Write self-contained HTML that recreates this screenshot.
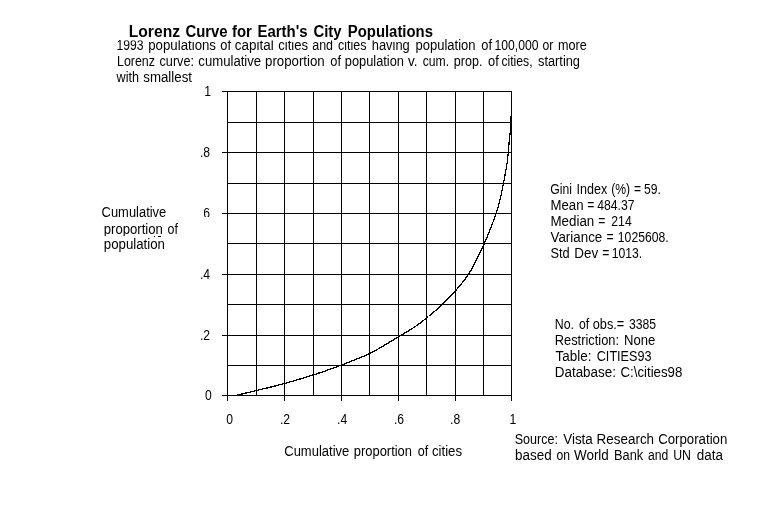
<!DOCTYPE html>
<html lang="en"><head><meta charset="utf-8"><title>Lorenz Curve for Earth's City Populations</title>
<style>
html,body{margin:0;padding:0;background:#fff;}
body{width:767px;height:517px;overflow:hidden;}
svg{display:block;}
text{font-family:"Liberation Sans",Arial,sans-serif;font-size:14px;fill:#000;}
text.b{font-size:16px;font-weight:bold;}
</style></head>
<body>
<svg width="767" height="517" viewBox="0 0 767 517">
<rect width="767" height="517" fill="#fff"/>
<defs>
<clipPath id="c6"><rect x="204" y="200" width="20" height="17"/></clipPath>
<clipPath id="cp"><rect x="100" y="220" width="90" height="16"/></clipPath>
</defs>
<g fill="#000" shape-rendering="crispEdges">
<rect x="227" y="91" width="1" height="310"/>
<rect x="256" y="91" width="1" height="305"/>
<rect x="284" y="91" width="1" height="310"/>
<rect x="313" y="91" width="1" height="305"/>
<rect x="341" y="91" width="1" height="310"/>
<rect x="369" y="91" width="1" height="305"/>
<rect x="398" y="91" width="1" height="310"/>
<rect x="426" y="91" width="1" height="305"/>
<rect x="455" y="91" width="1" height="310"/>
<rect x="483" y="91" width="1" height="305"/>
<rect x="511" y="91" width="1" height="310"/>
<rect x="222" y="91" width="290" height="1"/>
<rect x="227" y="122" width="285" height="1"/>
<rect x="222" y="152" width="290" height="1"/>
<rect x="227" y="183" width="285" height="1"/>
<rect x="222" y="213" width="290" height="1"/>
<rect x="227" y="243" width="285" height="1"/>
<rect x="222" y="274" width="290" height="1"/>
<rect x="227" y="304" width="285" height="1"/>
<rect x="222" y="335" width="290" height="1"/>
<rect x="227" y="365" width="285" height="1"/>
<rect x="222" y="395" width="290" height="1"/>
<rect x="154" y="236" width="1" height="1"/><rect x="158" y="236" width="3" height="1"/>
</g>
<polyline points="235.5,395.5 238.2,394.9 240.8,394.3 243.5,393.6 246.1,393.0 248.8,392.4 251.5,391.7 254.1,391.1 256.8,390.4 259.4,389.8 262.1,389.1 264.7,388.5 267.4,387.9 270.0,387.2 272.7,386.6 275.3,385.9 278.0,385.2 280.6,384.5 283.3,383.8 285.9,383.1 288.5,382.4 291.2,381.6 293.8,380.9 296.4,380.1 299.0,379.3 301.7,378.6 304.3,377.8 306.9,376.9 309.5,376.1 312.1,375.3 314.7,374.5 317.3,373.6 319.9,372.7 322.5,371.9 325.1,371.0 327.6,370.1 330.2,369.2 332.8,368.2 335.4,367.3 337.9,366.3 340.5,365.4 343.0,364.4 345.6,363.5 348.1,362.5 350.7,361.5 353.3,360.5 355.8,359.5 358.3,358.4 360.9,357.4 363.4,356.3 365.9,355.2 368.3,354.1 370.8,352.9 373.2,351.6 375.6,350.4 378.0,349.0 380.4,347.7 382.7,346.3 385.1,344.9 387.4,343.5 389.7,342.0 392.1,340.6 394.4,339.2 396.8,337.7 399.1,336.3 401.5,335.0 403.8,333.6 406.2,332.2 408.5,330.8 410.9,329.3 413.2,327.9 415.4,326.4 417.7,324.8 419.9,323.2 422.1,321.6 424.2,319.9 426.4,318.2 428.5,316.5 430.6,314.7 432.7,313.0 434.8,311.2 436.8,309.4 438.8,307.6 440.9,305.7 442.8,303.8 444.8,301.9 446.7,300.0 448.7,298.1 450.6,296.1 452.5,294.1 454.3,292.1 456.1,290.0 457.9,288.0 459.7,285.9 461.4,283.8 463.1,281.6 464.8,279.5 466.4,277.3 468.0,275.0 469.4,272.8 470.9,270.4 472.2,268.0 473.5,265.6 474.8,263.2 476.0,260.8 477.2,258.3 478.4,255.9 479.6,253.4 480.8,250.9 482.0,248.5" fill="none" stroke="#000" stroke-width="1.3" shape-rendering="crispEdges"/>
<polyline points="482.0,248.5 483.1,246.0 484.3,243.5 485.4,241.0 486.4,238.5 487.5,236.0 488.5,233.4 489.5,230.9 490.5,228.4 491.5,225.8 492.5,223.3 493.5,220.7 494.5,218.2 495.4,215.6 496.3,213.0 497.1,210.4 497.9,207.8 498.6,205.2 499.3,202.5 500.0,199.9 500.6,197.2 501.2,194.5 501.8,191.9 502.3,189.2 502.8,186.5 503.3,183.8 503.9,181.1 504.4,178.4 504.9,175.8 505.4,173.1 505.9,170.4 506.4,167.7 506.8,165.0 507.2,162.3 507.5,159.6 507.8,156.9 508.1,154.1 508.3,151.4 508.5,148.7 508.8,146.0 509.0,143.3 509.3,140.5 509.6,137.8 509.9,135.1 510.2,132.4 510.5,129.7 510.5,126.9 510.5,124.2 510.5,121.5 510.5,118.7 510.5,116.0" fill="none" stroke="#000" stroke-width="1.25" shape-rendering="crispEdges"/>
<g>
<text x="116.45" y="50" textLength="27.10" lengthAdjust="spacingAndGlyphs">1993</text>
<text x="148.25" y="50" textLength="67.75" lengthAdjust="spacingAndGlyphs">populations</text>
<text x="220.25" y="50" textLength="10.72" lengthAdjust="spacingAndGlyphs">of</text>
<text x="234.82" y="50" textLength="38.85" lengthAdjust="spacingAndGlyphs">capital</text>
<text x="278.20" y="50" textLength="29.80" lengthAdjust="spacingAndGlyphs">cities</text>
<text x="312.20" y="50" textLength="20.81" lengthAdjust="spacingAndGlyphs">and</text>
<text x="338.00" y="50" textLength="28.50" lengthAdjust="spacingAndGlyphs">cities</text>
<text x="371.75" y="50" textLength="38.00" lengthAdjust="spacingAndGlyphs">having</text>
<text x="415.50" y="50" textLength="60.10" lengthAdjust="spacingAndGlyphs">population</text>
<text x="481.25" y="50" textLength="10.72" lengthAdjust="spacingAndGlyphs">of</text>
<text x="494.48" y="50" textLength="44.03" lengthAdjust="spacingAndGlyphs">100,000</text>
<text x="542.59" y="50" textLength="10.83" lengthAdjust="spacingAndGlyphs">or</text>
<text x="558.00" y="50" textLength="28.75" lengthAdjust="spacingAndGlyphs">more</text>
<text x="117.00" y="66" textLength="38.00" lengthAdjust="spacingAndGlyphs">Lorenz</text>
<text x="159.50" y="66" textLength="34.50" lengthAdjust="spacingAndGlyphs">curve:</text>
<text x="198.30" y="66" textLength="62.90" lengthAdjust="spacingAndGlyphs">cumulative</text>
<text x="265.00" y="66" textLength="59.75" lengthAdjust="spacingAndGlyphs">proportion</text>
<text x="330.25" y="66" textLength="10.72" lengthAdjust="spacingAndGlyphs">of</text>
<text x="344.75" y="66" textLength="59.25" lengthAdjust="spacingAndGlyphs">population</text>
<text x="408.02" y="66" textLength="9.46" lengthAdjust="spacingAndGlyphs">v.</text>
<text x="422.68" y="66" textLength="26.39" lengthAdjust="spacingAndGlyphs">cum.</text>
<text x="453.80" y="66" textLength="28.60" lengthAdjust="spacingAndGlyphs">prop.</text>
<text x="488.00" y="66" textLength="10.72" lengthAdjust="spacingAndGlyphs">of</text>
<text x="501.43" y="66" textLength="31.13" lengthAdjust="spacingAndGlyphs">cities,</text>
<text x="538.00" y="66" textLength="42.00" lengthAdjust="spacingAndGlyphs">starting</text>
<text x="116.53" y="82" textLength="22.48" lengthAdjust="spacingAndGlyphs">with</text>
<text x="143.25" y="82" textLength="48.74" lengthAdjust="spacingAndGlyphs">smallest</text>
<text x="284.25" y="456" textLength="65.00" lengthAdjust="spacingAndGlyphs">Cumulative</text>
<text x="353.75" y="456" textLength="58.25" lengthAdjust="spacingAndGlyphs">proportion</text>
<text x="417.75" y="456" textLength="10.47" lengthAdjust="spacingAndGlyphs">of</text>
<text x="432.00" y="456" textLength="30.00" lengthAdjust="spacingAndGlyphs">cities</text>
<text x="101.60" y="217" textLength="64.65" lengthAdjust="spacingAndGlyphs">Cumulative</text>
<text x="103.75" y="234" textLength="59.15" lengthAdjust="spacingAndGlyphs" clip-path="url(#cp)">proportion</text>
<text x="167.50" y="234" textLength="10.37" lengthAdjust="spacingAndGlyphs" clip-path="url(#cp)">of</text>
<text x="103.75" y="249" textLength="61.25" lengthAdjust="spacingAndGlyphs">population</text>
<text x="550.30" y="194" textLength="21.66" lengthAdjust="spacingAndGlyphs">Gini</text>
<text x="576.50" y="194" textLength="30.75" lengthAdjust="spacingAndGlyphs">Index</text>
<text x="611.16" y="194" textLength="18.94" lengthAdjust="spacingAndGlyphs">(%)</text>
<text x="634.07" y="194" textLength="7.11" lengthAdjust="spacingAndGlyphs">=</text>
<text x="644.03" y="194" textLength="16.93" lengthAdjust="spacingAndGlyphs">59.</text>
<text x="550.50" y="210" textLength="33.01" lengthAdjust="spacingAndGlyphs">Mean</text>
<text x="587.19" y="210" textLength="7.11" lengthAdjust="spacingAndGlyphs">=</text>
<text x="597.25" y="210" textLength="37.25" lengthAdjust="spacingAndGlyphs">484.37</text>
<text x="550.50" y="226" textLength="43.75" lengthAdjust="spacingAndGlyphs">Median</text>
<text x="598.32" y="226" textLength="7.11" lengthAdjust="spacingAndGlyphs">=</text>
<text x="611.34" y="226" textLength="20.32" lengthAdjust="spacingAndGlyphs">214</text>
<text x="550.50" y="242" textLength="51.74" lengthAdjust="spacingAndGlyphs">Variance</text>
<text x="606.57" y="242" textLength="7.11" lengthAdjust="spacingAndGlyphs">=</text>
<text x="617.85" y="242" textLength="50.80" lengthAdjust="spacingAndGlyphs">1025608.</text>
<text x="550.50" y="258" textLength="19.25" lengthAdjust="spacingAndGlyphs">Std</text>
<text x="574.30" y="258" textLength="23.90" lengthAdjust="spacingAndGlyphs">Dev</text>
<text x="602.19" y="258" textLength="7.11" lengthAdjust="spacingAndGlyphs">=</text>
<text x="611.76" y="258" textLength="30.48" lengthAdjust="spacingAndGlyphs">1013.</text>
<text x="554.75" y="329" textLength="19.25" lengthAdjust="spacingAndGlyphs">No.</text>
<text x="578.91" y="329" textLength="10.16" lengthAdjust="spacingAndGlyphs">of</text>
<text x="592.75" y="329" textLength="31.50" lengthAdjust="spacingAndGlyphs">obs.=</text>
<text x="628.95" y="329" textLength="27.10" lengthAdjust="spacingAndGlyphs">3385</text>
<text x="554.75" y="345" textLength="64.26" lengthAdjust="spacingAndGlyphs">Restriction:</text>
<text x="624.00" y="345" textLength="31.25" lengthAdjust="spacingAndGlyphs">None</text>
<text x="555.57" y="361" textLength="35.86" lengthAdjust="spacingAndGlyphs">Table:</text>
<text x="596.75" y="361" textLength="54.75" lengthAdjust="spacingAndGlyphs">CITIES93</text>
<text x="554.75" y="377" textLength="61.24" lengthAdjust="spacingAndGlyphs">Database:</text>
<text x="620.50" y="377" textLength="61.76" lengthAdjust="spacingAndGlyphs">C:\cities98</text>
<text x="514.70" y="444" textLength="43.30" lengthAdjust="spacingAndGlyphs">Source:</text>
<text x="563.18" y="444" textLength="29.64" lengthAdjust="spacingAndGlyphs">Vista</text>
<text x="596.59" y="444" textLength="57.52" lengthAdjust="spacingAndGlyphs">Research</text>
<text x="658.20" y="444" textLength="69.10" lengthAdjust="spacingAndGlyphs">Corporation</text>
<text x="515.04" y="460" textLength="36.62" lengthAdjust="spacingAndGlyphs">based</text>
<text x="556.60" y="460" textLength="13.55" lengthAdjust="spacingAndGlyphs">on</text>
<text x="573.98" y="460" textLength="34.85" lengthAdjust="spacingAndGlyphs">World</text>
<text x="614.00" y="460" textLength="29.18" lengthAdjust="spacingAndGlyphs">Bank</text>
<text x="648.04" y="460" textLength="20.32" lengthAdjust="spacingAndGlyphs">and</text>
<text x="673.20" y="460" textLength="17.80" lengthAdjust="spacingAndGlyphs">UN</text>
<text x="696.87" y="460" textLength="26.16" lengthAdjust="spacingAndGlyphs">data</text>
<text x="204.31" y="96" textLength="6.77" lengthAdjust="spacingAndGlyphs">1</text>
<text x="199.92" y="157" textLength="10.16" lengthAdjust="spacingAndGlyphs">.8</text>
<text x="199.92" y="218" textLength="10.16" lengthAdjust="spacingAndGlyphs" clip-path="url(#c6)">.6</text>
<text x="199.92" y="279" textLength="10.16" lengthAdjust="spacingAndGlyphs">.4</text>
<text x="199.92" y="340" textLength="10.16" lengthAdjust="spacingAndGlyphs">.2</text>
<text x="205.11" y="400" textLength="6.77" lengthAdjust="spacingAndGlyphs">0</text>
<text x="226.24" y="424" textLength="6.77" lengthAdjust="spacingAndGlyphs">0</text>
<text x="279.92" y="424" textLength="10.16" lengthAdjust="spacingAndGlyphs">.2</text>
<text x="337.02" y="424" textLength="10.16" lengthAdjust="spacingAndGlyphs">.4</text>
<text x="393.92" y="424" textLength="10.16" lengthAdjust="spacingAndGlyphs">.6</text>
<text x="450.12" y="424" textLength="10.16" lengthAdjust="spacingAndGlyphs">.8</text>
<text x="509.61" y="424" textLength="6.77" lengthAdjust="spacingAndGlyphs">1</text>
<rect x="121" y="37" width="313" height="3.4" fill="#fff"/>
<text x="128.75" y="37" textLength="51.25" lengthAdjust="spacingAndGlyphs" class="b">Lorenz</text>
<text x="185.42" y="37" textLength="42.18" lengthAdjust="spacingAndGlyphs" class="b">Curve</text>
<text x="231.96" y="37" textLength="19.84" lengthAdjust="spacingAndGlyphs" class="b">for</text>
<text x="257.50" y="37" textLength="50.00" lengthAdjust="spacingAndGlyphs" class="b">Earth's</text>
<text x="313.45" y="37" textLength="28.11" lengthAdjust="spacingAndGlyphs" class="b">City</text>
<text x="347.80" y="37" textLength="85.15" lengthAdjust="spacingAndGlyphs" class="b">Populations</text>
</g>
</svg>
</body></html>
